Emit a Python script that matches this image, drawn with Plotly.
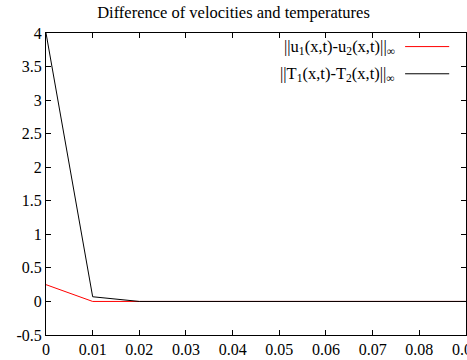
import plotly.graph_objects as go

x_vals = [0, 0.01, 0.02, 0.03, 0.04, 0.05, 0.06, 0.07, 0.08, 0.09]
u_diff = [0.25, 0.0, 0.0, 0.0, 0.0, 0.0, 0.0, 0.0, 0.0, 0.0]
t_diff = [4.0, 0.07, 0.0, 0.0, 0.0, 0.0, 0.0, 0.0, 0.0, 0.0]
x_ticks = [0, 0.01, 0.02, 0.03, 0.04, 0.05, 0.06, 0.07, 0.08, 0.09]
x_tick_text = ["0", "0.01", "0.02", "0.03", "0.04", "0.05", "0.06", "0.07", "0.08", "0.09"]
y_ticks = [-0.5, 0, 0.5, 1, 1.5, 2, 2.5, 3, 3.5, 4]
y_tick_text = ["-0.5", "0", "0.5", "1", "1.5", "2", "2.5", "3", "3.5", "4"]
legend_labels = ["||u<sub>1</sub>(x,t)-u<sub>2</sub>(x,t)||<sub>∞</sub>",
                 "||T<sub>1</sub>(x,t)-T<sub>2</sub>(x,t)||<sub>∞</sub>"]
colors = ["#ff0000", "#000000"]

FONT = "Liberation Serif, Times New Roman, serif"

fig = go.Figure()
fig.add_trace(go.Scatter(x=x_vals, y=u_diff, mode="lines",
                         line=dict(color=colors[0], width=1), name=legend_labels[0]))
fig.add_trace(go.Scatter(x=x_vals, y=t_diff, mode="lines",
                         line=dict(color=colors[1], width=1), name=legend_labels[1]))

# gnuplot-style legend: text right-aligned, sample line to the right
legend_y = [0.955, 0.865]
for lbl, col, yy in zip(legend_labels, colors, legend_y):
    fig.add_annotation(xref="paper", yref="paper", x=0.835, y=yy, text=lbl,
                       showarrow=False, xanchor="right", yanchor="middle",
                       font=dict(family=FONT, size=16.5, color="black"))
    fig.add_shape(type="line", xref="paper", yref="paper",
                  x0=0.855, x1=0.96, y0=yy, y1=yy,
                  line=dict(color=col, width=1))

fig.update_layout(
    width=467, height=360,
    margin=dict(l=46, r=1, t=33, b=25, autoexpand=False),
    paper_bgcolor="white", plot_bgcolor="white",
    showlegend=False,
    font=dict(family=FONT, size=16, color="black"),
    title=dict(text="Difference of velocities and temperatures",
               x=0.5, xanchor="center", y=0.965, yanchor="middle",
               font=dict(family=FONT, size=16.5, color="black")),
)
fig.update_xaxes(range=[0, 0.09001], tickvals=x_ticks, ticktext=x_tick_text,
                 showgrid=False, zeroline=False, showline=True, linecolor="black",
                 linewidth=1, mirror="ticks", ticks="inside", ticklen=5,
                 tickcolor="black", tickfont=dict(family=FONT, size=16),
                 ticklabeloverflow="allow", automargin=False)
fig.update_yaxes(range=[-0.5, 4], tickvals=y_ticks, ticktext=y_tick_text,
                 showgrid=False, zeroline=False, showline=True, linecolor="black",
                 linewidth=1, mirror="ticks", ticks="inside", ticklen=5,
                 tickcolor="black", tickfont=dict(family=FONT, size=16),
                 ticklabeloverflow="allow", automargin=False)

fig.write_html("out.html")
